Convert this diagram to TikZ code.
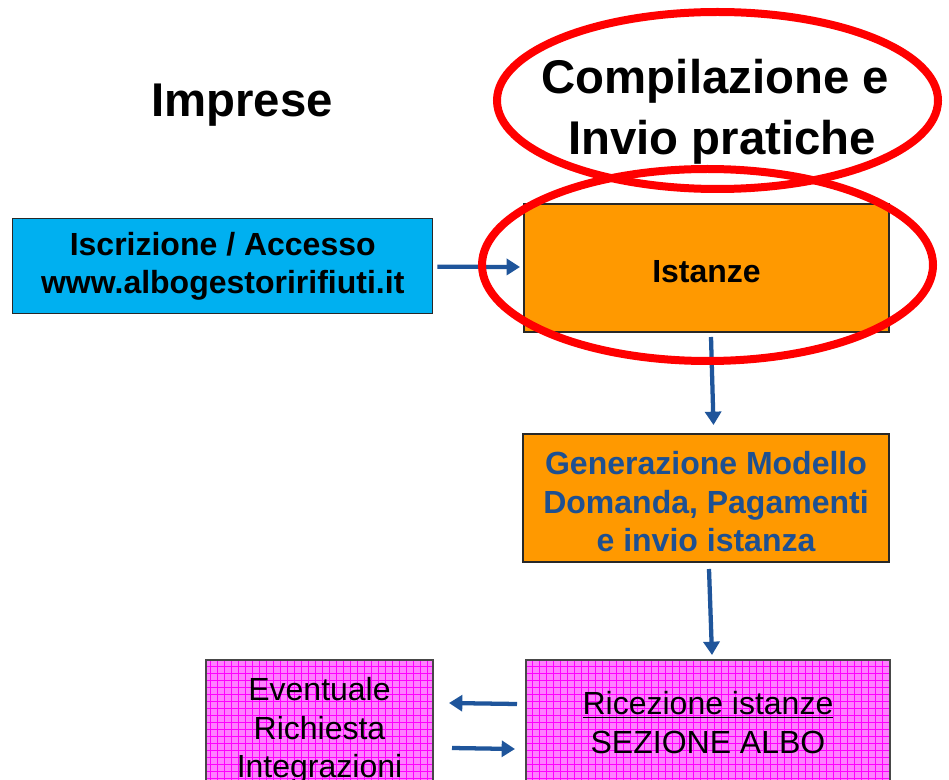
\documentclass[tikz,border=0pt]{standalone}
\usepackage{fontspec}
\setmainfont{Liberation Sans}
\usetikzlibrary{arrows.meta,calc}
\definecolor{boxorange}{HTML}{FF9900}
\definecolor{boxblue}{HTML}{00B0F0}
\definecolor{pinkfill}{HTML}{FF80FF}
\definecolor{pinkgrid}{HTML}{FF00FF}
\definecolor{textblue}{RGB}{30,80,145}
\definecolor{arrowblue}{RGB}{31,85,155}
\definecolor{edgegray}{RGB}{40,40,40}
\definecolor{ovalred}{HTML}{FF0000}
\tikzset{
  title/.style={font=\fontsize{35.5}{45.75}\selectfont\bfseries, align=center, inner sep=0pt},
  boxbase/.style={rectangle, inner sep=0pt, align=center, anchor=north west, draw=edgegray, line width=1.5pt},
  bluebox/.style={boxbase, fill=boxblue, line width=1.1pt, font=\fontsize{24}{28.8}\selectfont\bfseries},
  orangebox/.style={boxbase, fill=boxorange, font=\fontsize{24}{28.8}\selectfont\bfseries},
  pinkbox/.style={boxbase, fill=pinkfill, font=\fontsize{24}{28.8}\selectfont},
  gridline/.style={draw=pinkgrid, line width=0.6pt},
  pinkedge/.style={draw=edgegray!85, line width=1.5pt},
  flow/.style={draw=arrowblue, line width=3.2pt, -{Triangle[length=10pt,width=12pt]}},
  oval/.style={draw=ovalred, line width=6pt}
}
\begin{document}
\begin{tikzpicture}[x=0.75pt,y=-0.75pt]
\clip (0,0) rectangle (949,780);
\fill[white] (0,0) rectangle (949,780);

% titles
\node[title, anchor=base] (imprese) at (242,117) {Imprese};
\node[title] (compil) at (722,112) {Compilazione e\hspace*{0.28em}\\Invio pratiche};

% boxes
\node[bluebox, minimum width=315pt, minimum height=71.25pt] (iscr) at (12,218)
  {Iscrizione / Accesso\\www.albogestoririfiuti.it};
\node[orangebox, minimum width=273.75pt, minimum height=96pt, text height=22pt, text depth=0pt] (ist) at (523,203) {Istanze};
\node[orangebox, minimum width=274.5pt, minimum height=96pt, text=textblue] (gen) at (522,433)
  {\rule{0pt}{23pt}Generazione Modello\\Domanda, Pagamenti\\e invio istanza};

% pink boxes: fill, grid, border, text
\path[fill=pinkfill] (525,659) rectangle (889,800);
\path[fill=pinkfill] (205,659) rectangle (432,800);
\begin{scope}
  \clip (525,659) rectangle (889,800) (205,659) rectangle (432,800);
  \foreach \gx in {0,7,...,949} {\draw[gridline] (\gx,650) -- (\gx,800);}
  \foreach \gy in {652,659,...,800} {\draw[gridline] (200,\gy) -- (900,\gy);}
\end{scope}
\node[pinkbox, fill=none, draw=edgegray!85, minimum width=273pt, minimum height=94pt] (ric) at (525,659)
  {\underline{Ricezione istanze}\\SEZIONE ALBO};
\node[pinkbox, fill=none, draw=edgegray!85, minimum width=170.25pt, minimum height=106.5pt] (ev) at (205,659)
  {Eventuale\\Richiesta\\Integrazioni};

% connectors
\draw[flow] ($(iscr.east)+(4,0.5)$) -- ($(ist.west)+(-3,-1)$);
\draw[flow] ($(ist.south)+(4.5,4)$) -- ($(gen.north)+(7.5,-8)$);
\draw[flow] ($(gen.south)+(3,6)$) -- ($(ric.north)+(4,-4)$);
\draw[flow] ($(ric.north west)+(-8,45)$) -- ($(ev.north east)+(15,44)$);
\draw[flow] ($(ev.north east)+(18,89)$) -- ($(ric.north west)+(-10,90)$);

% red ovals
\draw[oval] (717.5,100.5) ellipse [x radius=220.5, y radius=88.5];
\draw[oval] (707.5,265) ellipse [x radius=225.5, y radius=96];
\end{tikzpicture}
\end{document}
